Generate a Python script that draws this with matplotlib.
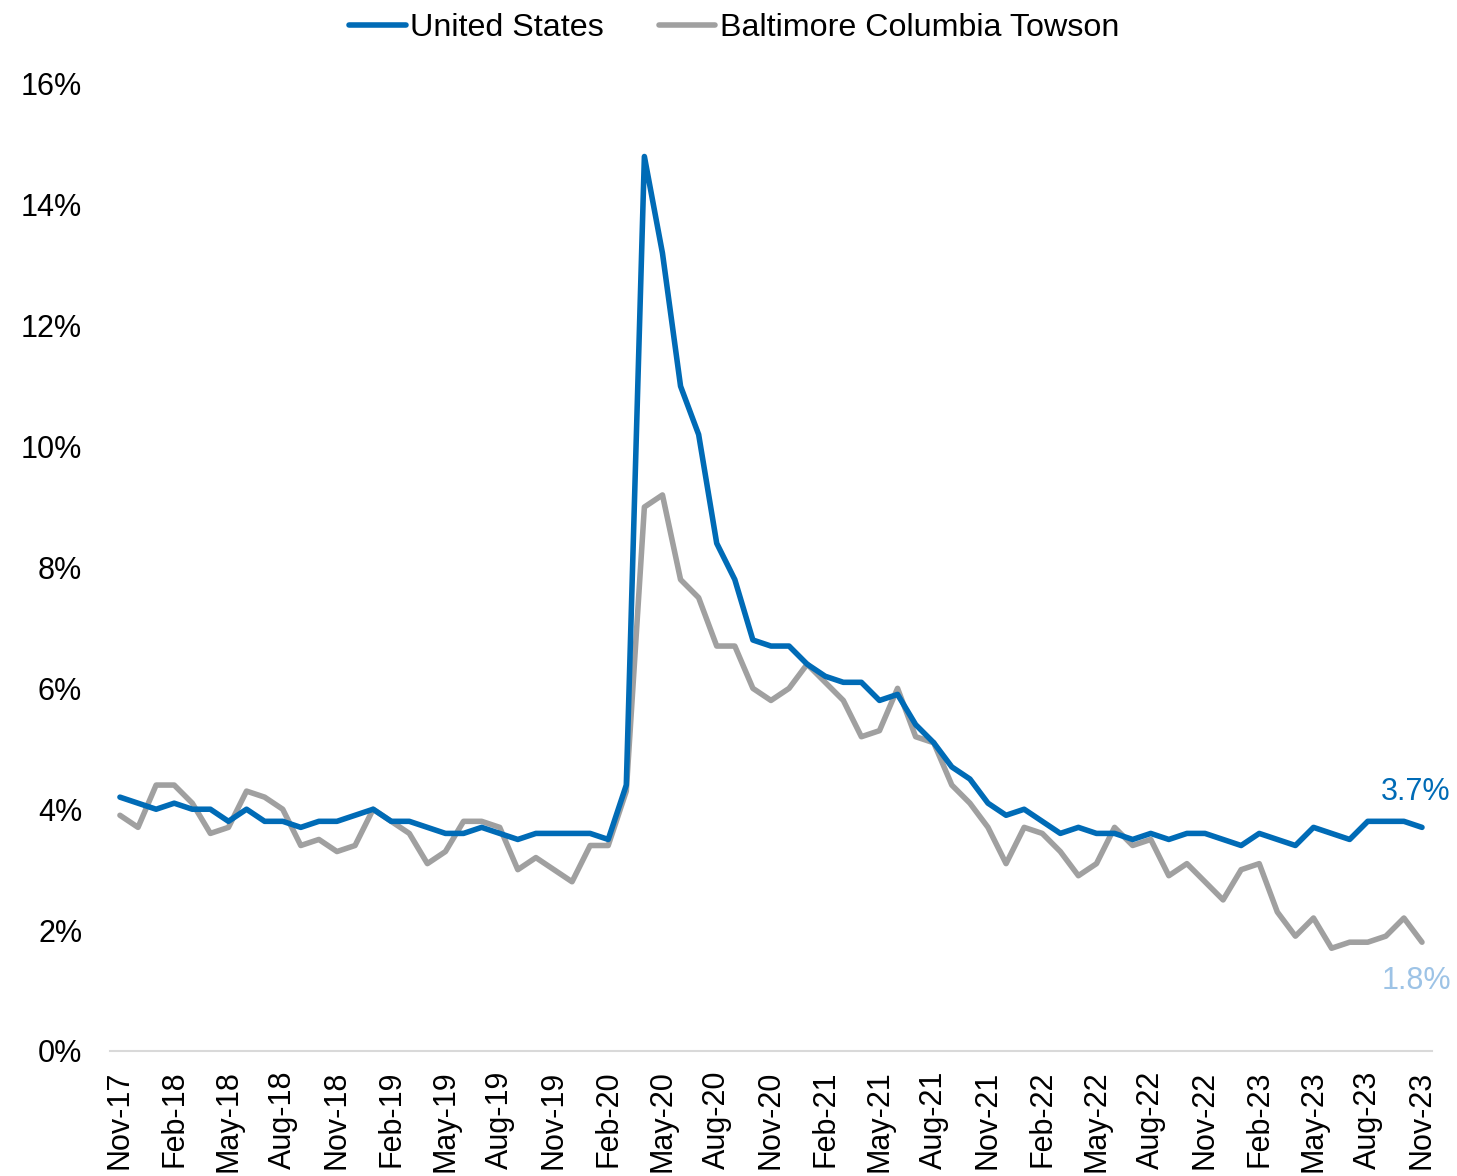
import matplotlib
matplotlib.use("Agg")
import matplotlib.pyplot as plt
from matplotlib.ticker import FuncFormatter, FixedLocator

plt.rcParams['font.family'] = ['Liberation Sans', 'DejaVu Sans']

# Monthly periods, Nov-2017 through Nov-2023
months = ['Jan', 'Feb', 'Mar', 'Apr', 'May', 'Jun',
          'Jul', 'Aug', 'Sep', 'Oct', 'Nov', 'Dec']
periods = ['Nov-17', 'Dec-17'] + [f'{m}-{y}' for y in range(18, 24) for m in months][:71]

# Unemployment rate, %
us_rate = [4.2, 4.1,
           4.0, 4.1, 4.0, 4.0, 3.8, 4.0, 3.8, 3.8, 3.7, 3.8, 3.8, 3.9,
           4.0, 3.8, 3.8, 3.7, 3.6, 3.6, 3.7, 3.6, 3.5, 3.6, 3.6, 3.6,
           3.6, 3.5, 4.4, 14.8, 13.2, 11.0, 10.2, 8.4, 7.8, 6.8, 6.7, 6.7,
           6.4, 6.2, 6.1, 6.1, 5.8, 5.9, 5.4, 5.1, 4.7, 4.5, 4.1, 3.9,
           4.0, 3.8, 3.6, 3.7, 3.6, 3.6, 3.5, 3.6, 3.5, 3.6, 3.6, 3.5,
           3.4, 3.6, 3.5, 3.4, 3.7, 3.6, 3.5, 3.8, 3.8, 3.8, 3.7]

bct_rate = [3.9, 3.7,
            4.4, 4.4, 4.1, 3.6, 3.7, 4.3, 4.2, 4.0, 3.4, 3.5, 3.3, 3.4,
            4.0, 3.8, 3.6, 3.1, 3.3, 3.8, 3.8, 3.7, 3.0, 3.2, 3.0, 2.8,
            3.4, 3.4, 4.3, 9.0, 9.2, 7.8, 7.5, 6.7, 6.7, 6.0, 5.8, 6.0,
            6.4, 6.1, 5.8, 5.2, 5.3, 6.0, 5.2, 5.1, 4.4, 4.1, 3.7, 3.1,
            3.7, 3.6, 3.3, 2.9, 3.1, 3.7, 3.4, 3.5, 2.9, 3.1, 2.8, 2.5,
            3.0, 3.1, 2.3, 1.9, 2.2, 1.7, 1.8, 1.8, 1.9, 2.2, 1.8]

series_names = ['United States', 'Baltimore Columbia Towson']
us_color = '#006BB6'
bct_color = '#A0A0A0'
bct_label_color = '#9DC3E6'

fig = plt.figure(figsize=(14.57, 11.76), dpi=100)
ax = fig.add_axes([0.0755, 0.1063, 0.9073, 0.8223])

x = list(range(len(periods)))
ln_us, = ax.plot(x, us_rate, color=us_color, lw=4.0, solid_joinstyle='round',
                 solid_capstyle='round', label=series_names[0], zorder=3)
ln_bct, = ax.plot(x, bct_rate, color=bct_color, lw=4.0, solid_joinstyle='round',
                  solid_capstyle='round', label=series_names[1], zorder=2)

ax.set_xlim(-0.55, len(periods) - 1 + 0.55)
ax.set_ylim(0, 16)
ax.set_yticks(range(0, 17, 2))
ax.yaxis.set_major_formatter(FuncFormatter(lambda v, p: f'{v:.0f}%'))

tick_pos = list(range(0, len(periods), 3))
ax.xaxis.set_major_locator(FixedLocator(tick_pos))
ax.set_xticklabels([periods[i] for i in tick_pos], rotation=90, va='top', ha='center')

ax.tick_params(axis='both', length=0, labelsize=22, colors='black')
ax.tick_params(axis='y', pad=20)
ax.tick_params(axis='x', pad=14)

for side in ['top', 'right', 'left']:
    ax.spines[side].set_visible(False)
ax.spines['bottom'].set_color('#D9D9D9')
ax.spines['bottom'].set_linewidth(1.5)

# End-of-series value labels
ax.annotate(f'{us_rate[-1]:.1f}%', (x[-1], us_rate[-1]), xytext=(-6, 35),
            textcoords='offset pixels', ha='center', va='center',
            fontsize=22, color=us_color)
ax.annotate(f'{bct_rate[-1]:.1f}%', (x[-1], bct_rate[-1]), xytext=(-6, -39),
            textcoords='offset pixels', ha='center', va='center',
            fontsize=22, color=bct_label_color, annotation_clip=False)

fig.legend(handles=[ln_us, ln_bct], loc='center', bbox_to_anchor=(0.504, 0.976),
           ncol=2, frameon=False, fontsize=23.2, handlelength=1.75,
           handletextpad=0.15, columnspacing=1.7, borderaxespad=0)

fig.savefig('out.png', dpi=100)
